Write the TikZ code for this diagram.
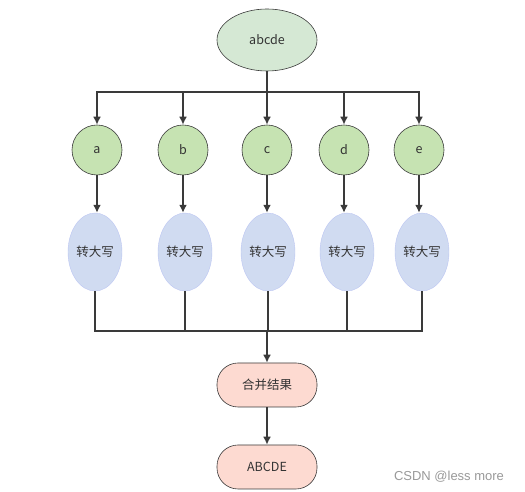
\documentclass[tikz,border=0pt]{standalone}
\usepackage{fontspec}
\setmainfont{Noto Sans CJK SC}
\newfontfamily\markfont{Liberation Sans}
\usetikzlibrary{arrows.meta}
\usetikzlibrary{shapes.geometric}
\definecolor{linegray}{HTML}{3A3A3A}
\definecolor{textgray}{HTML}{333333}
\definecolor{topfill}{HTML}{D5E8D4}
\definecolor{charfill}{HTML}{C6E3B2}
\definecolor{upfill}{HTML}{D0DBF1}
\definecolor{resfill}{HTML}{FDDAD1}
\begin{document}
\begin{tikzpicture}[x=1pt, y=1pt, >={Latex[length=8pt,width=8pt]},
    every node/.style={font=\fontsize{12.5}{14}\selectfont, text=textgray},
    link/.style={draw=linegray, line width=1.6pt},
    srcnode/.style={ellipse, draw=linegray, fill=topfill, line width=0.6pt, minimum width=100pt, minimum height=62pt, inner sep=0pt},
    charnode/.style={circle, draw=linegray, fill=charfill, line width=0.6pt, minimum size=50pt, inner sep=0pt},
    upnode/.style={ellipse, draw=upfill!90!blue, fill=upfill, line width=0.4pt, minimum width=54pt, minimum height=78pt, inner sep=0pt},
    resnode/.style={rectangle, rounded corners=21pt, draw=linegray, fill=resfill, line width=0.6pt, minimum width=100pt, minimum height=44pt, inner sep=0pt}]
    \useasboundingbox (0, 0) rectangle (525, 492);

    \node [srcnode] (src) at (267, 452) {abcde};

    \node [charnode] (a) at (97, 342) {a};
    \node [charnode] (b) at (183, 342) {b};
    \node [charnode] (c) at (267, 342) {c};
    \node [charnode] (d) at (344, 342) {d};
    \node [charnode] (e) at (419, 342) {e};

    \node [upnode] (ua) at (95, 240) {转大写};
    \node [upnode] (ub) at (185, 240) {转大写};
    \node [upnode] (uc) at (268, 240) {转大写};
    \node [upnode] (ud) at (347, 240) {转大写};
    \node [upnode] (ue) at (422, 240) {转大写};

    \node [resnode] (res) at (267, 107) {合并结果};
    \node [resnode] (out) at (267, 25) {ABCDE};

    \node [font=\markfont\fontsize{13}{15}\selectfont, text=black!40] (mark) at (449, 15) {CSDN @less more};

    % split into letters
    \coordinate (split) at (267, 400);
    \draw [link, line width=2.2pt] (src.south) -- (split);
    \draw [link, ->] (split) -| (a.north);
    \draw [link, ->] (split) -| (b.north);
    \draw [link, ->] (split) -- (c.north);
    \draw [link, ->] (split) -| (d.north);
    \draw [link, ->] (split) -| (e.north);

    \draw [link, ->] (a.south) -- (a.south |- ua.north);
    \draw [link, ->] (b.south) -- (b.south |- ub.north);
    \draw [link, ->] (c.south) -- (c.south |- uc.north);
    \draw [link, ->] (d.south) -- (d.south |- ud.north);
    \draw [link, ->] (e.south) -- (e.south |- ue.north);

    % merge
    \coordinate (merge) at (267, 161);
    \draw [link] (ua.south) |- (merge);
    \draw [link] (ub.south) |- (merge);
    \draw [link] (uc.south) |- (merge);
    \draw [link] (ud.south) |- (merge);
    \draw [link] (ue.south) |- (merge);
    \draw [link, line width=2.2pt, ->] (merge) -- (res.north);

    \draw [link, ->] (res) -- (out);
\end{tikzpicture}
\end{document}
